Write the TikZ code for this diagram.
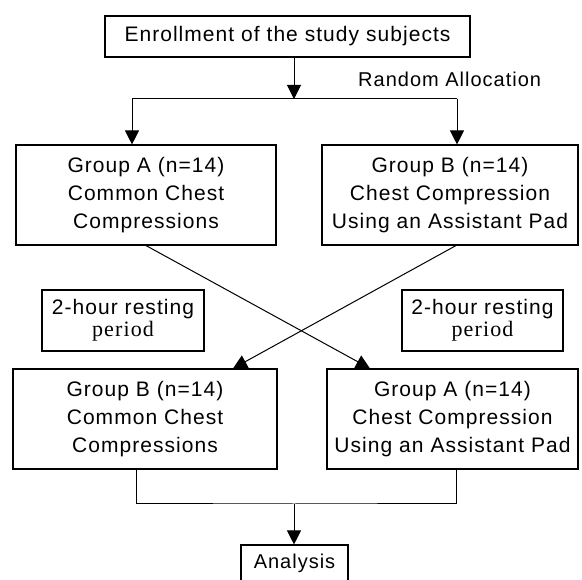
\documentclass[tikz,border=0pt]{standalone}
\usepackage{fontspec}
\setmainfont{Liberation Sans}[LetterSpace=5]
\newfontfamily\serifper{Liberation Serif}[LetterSpace=5]
\usetikzlibrary{arrows.meta}
\begin{document}
\begin{tikzpicture}[x=1pt,y=-1pt,
  box/.style={draw,line width=1.1pt,rectangle,inner sep=0pt,align=center,font=\fontsize{21}{28}\selectfont},
  restbox/.style={box,font=\fontsize{21}{22}\selectfont},
  lbl/.style={inner sep=0pt,font=\fontsize{20}{24}\selectfont},
  arr/.style={-{Triangle[length=14pt,width=14pt]},line width=1pt},
  ln/.style={line width=1pt}]
\useasboundingbox (0,0) rectangle (582,580);
\clip (0,0) rectangle (582,580);
% nodes
\node[box,minimum width=365pt,minimum height=41pt] (enroll) at (287.5,36.5) {Enrollment of the study subjects};
\node[lbl,anchor=base west] (rand) at (358,87) {Random Allocation};
\node[box,minimum width=260pt,minimum height=100pt] (gA) at (146,195) {Group A (n=14)\\Common Chest\\Compressions};
\node[box,minimum width=256pt,minimum height=100pt] (gB) at (450,195) {Group B (n=14)\\Chest Compression\\Using an Assistant Pad};
\node[restbox,minimum width=162pt,minimum height=61pt] (restL) at (123,320.5) {2-hour resting\\{\serifper\fontsize{22}{22}\selectfont period}};
\node[restbox,minimum width=161pt,minimum height=61pt] (restR) at (482.5,320.5) {2-hour resting\\{\serifper\fontsize{22}{22}\selectfont period}};
\node[box,minimum width=264pt,minimum height=100pt] (bl) at (145,419) {Group B (n=14)\\Common Chest\\Compressions};
\node[box,minimum width=251pt,minimum height=100pt] (br) at (452.5,419) {Group A (n=14)\\Chest Compression\\Using an Assistant Pad};
\node[box,font=\fontsize{20}{24}\selectfont,minimum width=107pt,minimum height=37pt] (an) at (294.5,563.5) {Analysis};
% connectors
\coordinate (split) at (294,99);
\coordinate (la) at (132,99);
\coordinate (rb) at (457,99);
\draw[arr] (enroll.south -| split) -- (split);
\draw[ln] (la) -- (rb);
\draw[arr] (la) -- (la |- gA.north);
\draw[arr] (rb) -- (rb |- gB.north);
\draw[arr] (gA.south) -- ([xshift=-82.5pt]br.north);
\draw[arr] ([xshift=6pt]gB.south) -- ([xshift=88pt]bl.north);
\coordinate (bls) at ([xshift=-9pt]bl.south);
\coordinate (brs) at ([xshift=3.5pt]br.south);
\coordinate (join) at (294,504);
\draw[ln] (bls) |- (join) -| (brs);
\draw[arr] (join) -- (an.north -| join);
\end{tikzpicture}
\end{document}
